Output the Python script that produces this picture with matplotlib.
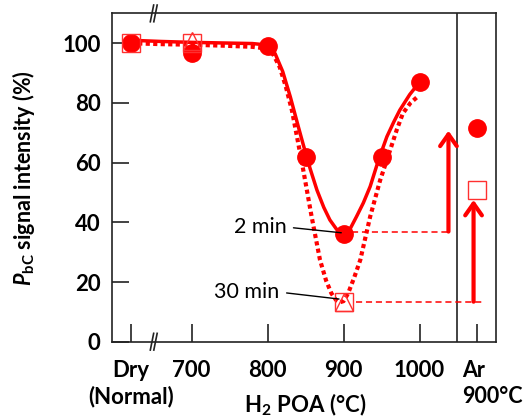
import matplotlib
matplotlib.use("Agg")
import matplotlib.pyplot as plt
import matplotlib.transforms as mtransforms

plt.rcParams['font.family'] = ['Lato', 'DejaVu Sans']
plt.rcParams['mathtext.fontset'] = 'custom'
plt.rcParams['mathtext.rm'] = 'Lato'
plt.rcParams['mathtext.bf'] = 'Lato:bold'
plt.rcParams['mathtext.it'] = 'Lato:bold:italic'

# ---- data ----
tick_pos = [620, 700, 800, 900, 1000, 1075]
tick_labels = ['Dry\n(Normal)', '700', '800', '900', '1000', '']
ar_label = 'Ar\n900°C'

# 2 min (filled circles)
c2_x = [620, 700, 800, 850, 900, 950, 1000]
c2_y = [100, 96.7, 99, 62, 36, 62, 87]
c2_ar = 71.5
# 30 min (open squares)
s30_x = [620, 700, 900]
s30_y = [100, 100, 13.4]
s30_ar = 50.8
# open triangles
t_x = [700, 900]
t_y = [100.8, 13.4]

# fit curves
solid_x = [620, 660, 700, 740, 780, 800, 810, 820, 830, 840, 847, 856, 865, 874, 882, 891, 900,
           908, 917, 926, 935, 946, 957, 966, 974, 987, 1000]
solid_y = [101, 100.6, 100.3, 100.1, 99.9, 99.4, 96.5, 90.5, 82, 72.5, 66, 58, 50.8, 45, 40.8, 37.6, 35.8,
           37.5, 41.9, 46.5, 52, 60.9, 68.7, 73.6, 77.6, 82.8, 87]
dot_x = [620, 660, 700, 740, 780, 800, 808, 816, 824, 832, 840, 847, 858, 869, 877, 884, 890, 895,
         900, 906, 914, 922, 935, 948, 961, 970, 978, 988, 997]
dot_y = [100, 99.7, 99.5, 99.2, 98.8, 98.2, 96, 92, 85.5, 77.6, 67, 57.5, 41.9, 27.4, 20.5, 16.2, 14, 13.2,
         13.6, 16.2, 21.5, 27.4, 41.9, 54, 64, 71, 76.5, 80, 82]

# recovery arrows
arrow2_x, arrow2_from, arrow2_to = 1038, 36.9, 70.7
arrow30_x, arrow30_from, arrow30_to = 1071, 13.4, 47.5
dash2 = ([911, 1038], [36.9, 36.9])
dash30 = ([916, 1083], [13.4, 13.4])

RED = '#ff0000'
EDGE = '#ff3030'
FS = 16

fig = plt.figure(figsize=(5.25, 4.18), dpi=100)
ax = fig.add_axes([111.7/525, (418-341.7)/418, (495.6-111.7)/525, (341.7-13.4)/418])
ax.set_xlim(595, 1100)
ax.set_ylim(0, 110)

# curves
ax.plot(dot_x, dot_y, color=RED, lw=3.0, ls=(0, (1, 0.8)), dash_capstyle='butt', zorder=2)
ax.plot(solid_x, solid_y, color=RED, lw=2.5, solid_capstyle='round', zorder=3)

# dashed guide lines
ax.plot(*dash2, color=RED, lw=1.1, ls=(0, (4, 2.5)), zorder=2)
ax.plot(*dash30, color=RED, lw=1.1, ls=(0, (4, 2.5)), zorder=2)

# markers
ax.plot(s30_x, s30_y, ls='none', marker='s', ms=13.5, mfc='none', mec=EDGE, mew=1.0, zorder=5)
ax.plot(t_x, t_y, ls='none', marker='^', ms=12.5, mfc='none', mec=EDGE, mew=1.0, zorder=5)
ax.plot(c2_x, c2_y, ls='none', marker='o', ms=12.5, mfc=RED, mec=RED, zorder=4)
ax.plot([1075], [c2_ar], ls='none', marker='o', ms=12.5, mfc=RED, mec=RED, zorder=4)
ax.plot([1075], [s30_ar], ls='none', marker='s', ms=13.5, mfc='white', mec=EDGE, mew=1.0, zorder=5)

# arrows
for xa, y0, y1 in [(arrow2_x, arrow2_from, arrow2_to), (arrow30_x, arrow30_from, arrow30_to)]:
    ax.annotate('', xy=(xa, y1), xytext=(xa, y0),
                arrowprops=dict(arrowstyle='->,head_length=0.85,head_width=0.6',
                                lw=3, color=RED, shrinkA=0, shrinkB=0), zorder=6)

# separator line
ax.axvline(1049, color='#222222', lw=1.2, zorder=1)

# annotations
ax.annotate('2 min', xy=(897, 36.5), xytext=(825, 38.4), ha='right', va='center', fontsize=15.5,
            arrowprops=dict(arrowstyle='-', lw=1.0, color='black', shrinkA=3, shrinkB=0,
                            relpos=(1, 0.5)), zorder=7)
ax.annotate('30 min', xy=(894, 14.3), xytext=(816, 16.6), ha='right', va='center', fontsize=15.5,
            arrowprops=dict(arrowstyle='-', lw=1.0, color='black', shrinkA=3, shrinkB=0,
                            relpos=(1, 0.5)), zorder=7)

# spines and ticks
for s in ax.spines.values():
    s.set_color('#222222')
    s.set_linewidth(1.2)
ax.set_xticks(tick_pos)
ax.set_xticklabels(tick_labels, fontweight='bold', fontsize=FS, linespacing=1.3)
ax.set_yticks([0, 20, 40, 60, 80, 100])
ax.set_yticklabels(['0', '20', '40', '60', '80', '100'], fontweight='bold', fontsize=FS)
ax.tick_params(axis='x', direction='in', length=13, width=1.2, color='#222222', pad=13)
ax.tick_params(axis='y', direction='in', length=12.5, width=1.2, color='#222222', pad=8)

trans = mtransforms.blended_transform_factory(ax.transData, ax.transAxes)
ax.text(1056.5, -0.055, ar_label, transform=trans, ha='left', va='top', fontsize=15.5,
        fontweight='bold', linespacing=1.3, multialignment='left')

# axis break marks
for xb in (648, 652.6):
    for yb in (0, 110):
        ax.plot([xb - 2.2, xb + 2.2], [yb - 2.8, yb + 2.8], color='#222222', lw=1.2,
                clip_on=False, zorder=8)

# labels
fig.text(305/525, (418-405)/418, r'H$_\mathbf{2}$ POA (°C)', ha='center', va='center',
         fontsize=FS, fontweight='bold')
fig.text(24/525, (418-178)/418, r'$\mathit{P}_\mathbf{bC}$ signal intensity (%)', rotation=90,
         ha='center', va='center', fontsize=15.5, fontweight='bold')

fig.savefig('out.png', dpi=100)
